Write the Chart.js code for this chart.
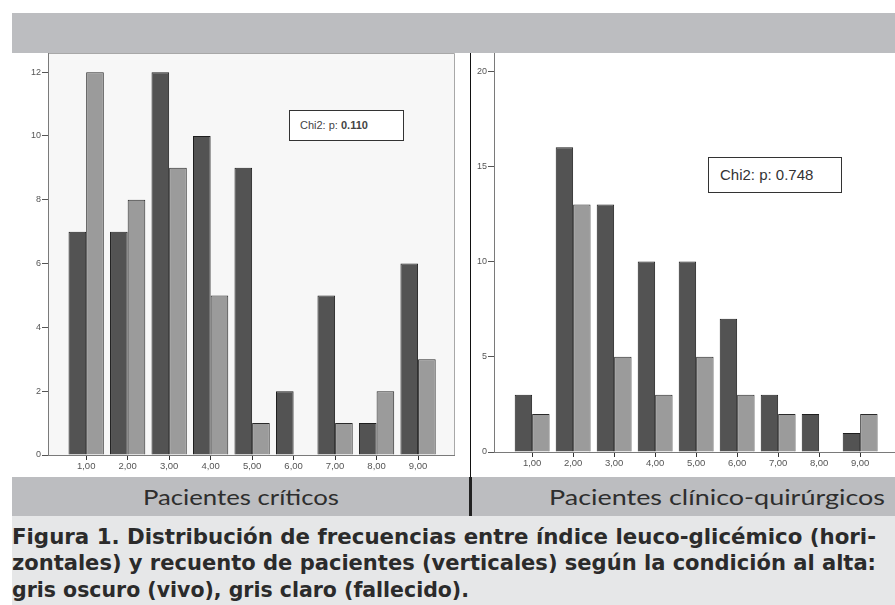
<!DOCTYPE html>
<html lang="es">
<head>
<meta charset="utf-8">
<title>Distribución de frecuencias</title>
<script src="https://cdn.jsdelivr.net/npm/chart.js@4.4.0/dist/chart.umd.min.js"></script>
<style>
  html, body { margin: 0; padding: 0; background: #ffffff; }
  body { width: 895px; height: 605px; position: relative; overflow: hidden; }
  .abs { position: absolute; }
  #topBand { left: 12px; top: 13px; width: 883px; height: 40px; background: #bcbdc0; }
  #labelBand { left: 12px; top: 477px; width: 883px; height: 39px; background: #bcbdc0; }
  #captionBand { left: 12px; top: 516px; width: 883px; height: 89px; background: #e6e7e8; }
  #divider { left: 470px; top: 53px; width: 1px; height: 424px; background: #111; }
  #dividerThick { left: 469px; top: 477px; width: 3px; height: 39px; background: #222; }
  .panelLabel { font-family: "Lato", "Open Sans", sans-serif; font-size: 21px; color: #2e2e2e;
                white-space: nowrap; transform-origin: left center; line-height: 24px; }
  .caption { font-family: "DejaVu Sans Condensed", "DejaVu Sans", sans-serif;
             font-weight: bold; font-size: 22px; color: #2b2b2b; white-space: nowrap;
             transform-origin: left center; line-height: 26px; }
  .chi { border: 1px solid #333; background: #fff; box-sizing: border-box;
         font-family: "Liberation Sans", "Open Sans", sans-serif; color: #444; white-space: nowrap; }
  canvas { position: absolute; }
</style>
</head>
<body>
<div id="topBand" class="abs"></div>
<div id="labelBand" class="abs"></div>
<div id="captionBand" class="abs"></div>

<canvas id="criticos" style="left:0px; top:53px;" width="455" height="424"></canvas>
<canvas id="clinicos" style="left:472px; top:53px;" width="423" height="424"></canvas>

<div id="divider" class="abs"></div>
<div id="dividerThick" class="abs"></div>

<div class="abs chi" style="left:289px; top:110px; width:115px; height:31px; font-size:11px; line-height:29px; padding-left:10px;">Chi2: p: <b style="font-weight:600">0.110</b></div>
<div class="abs chi" style="left:708px; top:157px; width:134px; height:36px; font-size:15px; line-height:34px; padding-left:11px; color:#333;">Chi2: p: 0.748</div>

<div class="abs panelLabel fit" data-w="196" style="left:143px; top:485px;">Pacientes críticos</div>
<div class="abs panelLabel fit" data-w="336" style="left:549px; top:485px;">Pacientes clínico-quirúrgicos</div>

<div class="abs caption fit" data-w="864" style="left:12px; top:524px;">Figura 1. Distribución de frecuencias entre índice leuco-glicémico (hori-</div>
<div class="abs caption fit" data-w="864" style="left:12px; top:550px;">zontales) y recuento de pacientes (verticales) según la condición al alta:</div>
<div class="abs caption fit" data-w="457" style="left:12px; top:577px;">gris oscuro (vivo), gris claro (fallecido).</div>

<script>
// Índice leuco-glicémico (categorías del eje horizontal)
const indices = [1, 2, 3, 4, 5, 6, 7, 8, 9];
const indexLabels = ['1,00', '2,00', '3,00', '4,00', '5,00', '6,00', '7,00', '8,00', '9,00'];

// Pacientes críticos: recuento por condición al alta
const criticosVivo = [7, 7, 12, 10, 9, 2, 5, 1, 6];
const criticosFallecido = [12, 8, 9, 5, 1, 0, 1, 2, 3];

// Pacientes clínico-quirúrgicos: recuento por condición al alta
const clinicosVivo = [3, 16, 13, 10, 10, 7, 3, 2, 1];
const clinicosFallecido = [2, 13, 5, 3, 5, 3, 2, 0, 2];

// Marcas del eje vertical
const criticosYTicks = [0, 2, 4, 6, 8, 10, 12];
const clinicosYTicks = [0, 5, 10, 15, 20];

const darkGray = '#535353';
const lightGray = '#9b9b9b';

function points(values) {
  return values.map((v, i) => ({ x: indices[i], y: v }));
}

const framePlugin = {
  id: 'plotFrame',
  beforeDraw(chart, args, opts) {
    const a = chart.chartArea, ctx = chart.ctx;
    ctx.save();
    if (opts.fill) {
      ctx.fillStyle = opts.fill;
      ctx.fillRect(a.left, a.top, a.right - a.left, a.bottom - a.top);
    }
    if (opts.stroke) {
      ctx.strokeStyle = opts.stroke;
      ctx.lineWidth = 1;
      ctx.beginPath();
      ctx.moveTo(a.left, a.top + 0.5);
      ctx.lineTo(a.right - 0.5, a.top + 0.5);
      ctx.lineTo(a.right - 0.5, a.bottom);
      ctx.stroke();
    }
    ctx.restore();
  }
};

function noPadding(s) {
  s.paddingTop = 0; s.paddingBottom = 0; s.paddingLeft = 0; s.paddingRight = 0;
}

function makeChart(id, vivo, fallecido, cfg) {
  return new Chart(document.getElementById(id), {
    type: 'bar',
    data: {
      datasets: [
        { label: 'vivo', data: points(vivo), backgroundColor: darkGray, borderColor: '#1e1e1e', borderWidth: 1 },
        { label: 'fallecido', data: points(fallecido), backgroundColor: lightGray, borderColor: '#2a2a2a', borderWidth: 1 }
      ]
    },
    options: {
      responsive: false,
      animation: false,
      events: [],
      layout: { padding: 0 },
      categoryPercentage: 0.85,
      barPercentage: 1.0,
      plugins: {
        legend: { display: false },
        tooltip: { enabled: false },
        plotFrame: { fill: cfg.fill, stroke: cfg.stroke }
      },
      scales: {
        x: {
          type: 'linear',
          offset: false,
          min: cfg.xMin,
          max: cfg.xMax,
          afterBuildTicks: s => { s.ticks = indices.map(v => ({ value: v })); },
          afterFit: s => { s.height = cfg.xHeight; noPadding(s); },
          grid: { offset: false, drawOnChartArea: false, drawTicks: true, tickLength: 5, tickColor: '#333' },
          border: { display: true, color: '#7a7a7a', width: 1 },
          ticks: {
            autoSkip: false, maxRotation: 0, padding: 1,
            color: '#555', font: { family: 'Liberation Sans', size: 9.5 },
            callback: v => indexLabels[indices.indexOf(v)]
          }
        },
        y: {
          min: 0,
          max: cfg.yMax,
          afterBuildTicks: s => { s.ticks = cfg.yTicks.map(v => ({ value: v })); },
          afterFit: s => { s.width = cfg.yWidth; noPadding(s); },
          grid: { drawOnChartArea: false, drawTicks: true, tickLength: 6, tickColor: '#555' },
          border: { display: true, color: '#7a7a7a', width: 1 },
          ticks: { padding: 1, color: '#555', font: { family: 'Liberation Sans', size: 9 } }
        }
      }
    },
    plugins: [framePlugin]
  });
}

makeChart('criticos', criticosVivo, criticosFallecido, {
  xMin: 0.08, xMax: 9.89, yMax: 12.6, yTicks: criticosYTicks,
  yWidth: 48, xHeight: 22, fill: '#f7f7f7', stroke: '#a8a8a8'
});

makeChart('clinicos', clinicosVivo, clinicosFallecido, {
  xMin: 0.07, xMax: 9.85, yMax: 20.95, yTicks: clinicosYTicks,
  yWidth: 22, xHeight: 25, fill: null, stroke: null
});

// Ajusta el ancho de los textos a su caja
document.querySelectorAll('.fit').forEach(el => {
  const target = parseFloat(el.dataset.w);
  const w = el.getBoundingClientRect().width;
  if (w > 0) el.style.transform = 'scaleX(' + (target / w) + ')';
});
</script>
</body>
</html>
